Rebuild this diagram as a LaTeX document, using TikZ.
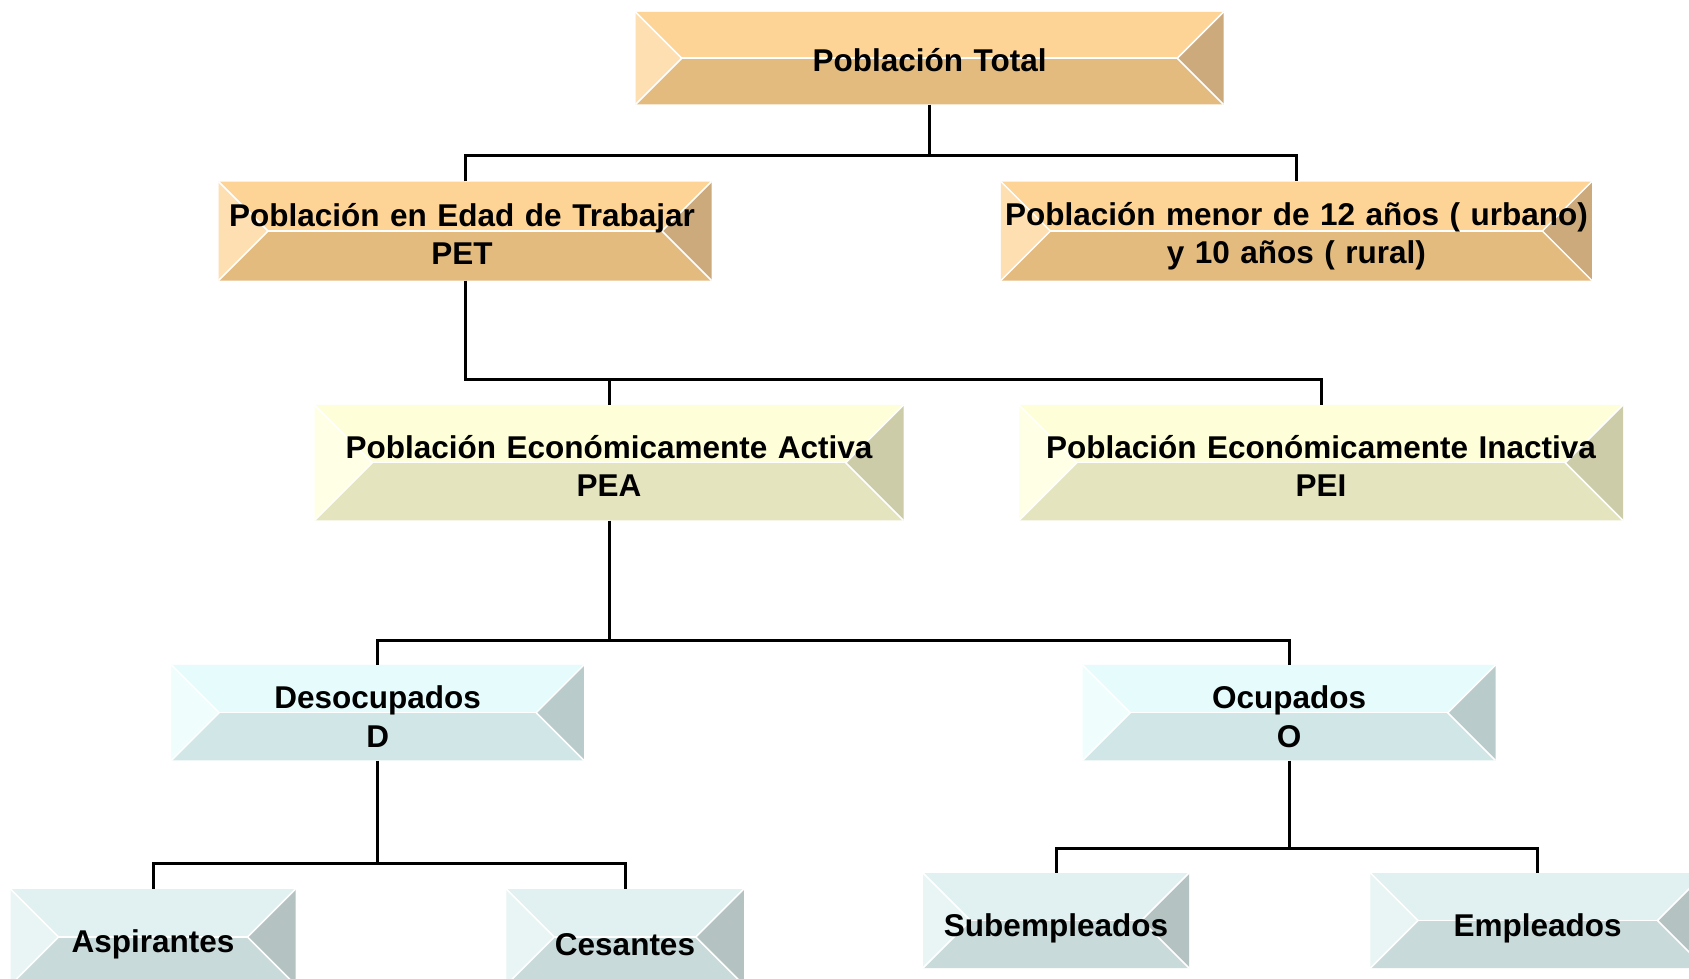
\documentclass[tikz,border=0pt]{standalone}
\usepackage{fontspec}
\setmainfont{Liberation Sans}
\definecolor{ortop}{HTML}{FDD496}
\definecolor{orbot}{HTML}{E4BB7E}
\definecolor{orl}{HTML}{FDDFB1}
\definecolor{orr}{HTML}{CCAA7C}
\definecolor{yetop}{HTML}{FEFED8}
\definecolor{yebot}{HTML}{E4E4BE}
\definecolor{yel}{HTML}{FFFFE6}
\definecolor{yer}{HTML}{CCCCA9}
\definecolor{cytop}{HTML}{E6FCFC}
\definecolor{cybot}{HTML}{D1E6E6}
\definecolor{cyl}{HTML}{EFFDFD}
\definecolor{cyr}{HTML}{BACBCB}
\definecolor{grtop}{HTML}{E1F0F0}
\definecolor{grbot}{HTML}{C9DADA}
\definecolor{grl}{HTML}{E9F4F4}
\definecolor{grr}{HTML}{B4C2C2}
\tikzset{
  boxtext/.style={inner sep=0pt, align=center, font=\bfseries\fontsize{31.5}{38.3}\selectfont},
  conn/.style={line width=3pt, draw=black},
  bevline/.style={draw=white, line width=1.5pt}
}
\newcommand\bevbox[8][]{%
  \pgfmathsetmacro\bvxl{#3-#5/2}\pgfmathsetmacro\bvxr{#3+#5/2}%
  \pgfmathsetmacro\bvyt{#4-#6/2}\pgfmathsetmacro\bvyb{#4+#6/2}%
  \pgfmathsetmacro\bvil{\bvxl+#6/2}\pgfmathsetmacro\bvir{\bvxr-#6/2}%
  \fill[#7top] (\bvxl,\bvyt) -- (\bvxr,\bvyt) -- (\bvir,#4) -- (\bvil,#4) -- cycle;
  \fill[#7bot] (\bvxl,\bvyb) -- (\bvxr,\bvyb) -- (\bvir,#4) -- (\bvil,#4) -- cycle;
  \fill[#7l] (\bvxl,\bvyt) -- (\bvil,#4) -- (\bvxl,\bvyb) -- cycle;
  \fill[#7r] (\bvxr,\bvyt) -- (\bvir,#4) -- (\bvxr,\bvyb) -- cycle;
  \draw[bevline] (\bvxl,\bvyt) -- (\bvil,#4) -- (\bvxl,\bvyb);
  \draw[bevline] (\bvxr,\bvyt) -- (\bvir,#4) -- (\bvxr,\bvyb);
  \draw[bevline] (\bvil,#4) -- (\bvir,#4);
  \node[boxtext, text width=#5pt, minimum height=#6pt] (#2) at (#3,#4) {};
  \node[boxtext, text width=#5pt, yshift=-3pt, #1] (#2-t) at (#3,#4) {#8};
}
\begin{document}
\begin{tikzpicture}[x=1pt,y=-1pt]
\fill[white] (0,0) rectangle (1689,978);
\useasboundingbox (0,0) rectangle (1689,978);

\bevbox[yshift=1.5pt]{total}{929.5}{58.2}{588}{92.5}{or}{Población Total}
\bevbox[xshift=-3pt]{pet}{465}{231}{493}{99}{or}{Población en Edad de Trabajar\\PET}
\bevbox[yshift=-2pt]{menor}{1296.4}{231}{591}{99}{or}{Población menor de 12 años ( urbano)\\y 10 años ( rural)}
\bevbox{pea}{609}{462.7}{589}{115.5}{ye}{Población Económicamente Activa\\PEA}
\bevbox{pei}{1321}{462.7}{604}{115.5}{ye}{Población Económicamente Inactiva\\PEI}
\bevbox[yshift=-1pt]{des}{377.7}{712.7}{412.5}{95.5}{cy}{Desocupados\\D}
\bevbox[yshift=-1pt]{ocu}{1289}{712.7}{413}{95.5}{cy}{Ocupados\\O}
\bevbox[yshift=-4.5pt]{asp}{153}{937}{285}{96}{gr}{Aspirantes}
\bevbox[yshift=-4.5pt]{ces}{625}{937}{237.5}{96}{gr}{Cesantes}
\bevbox[yshift=-4.5pt]{sub}{1056}{920.5}{266}{95}{gr}{Subempleados}
\bevbox[yshift=-4.5pt]{emp}{1537.7}{920.5}{334.5}{95}{gr}{Empleados}

\coordinate (j1) at (929.5,155);
\coordinate (j2) at (609,379);
\coordinate (j3) at (609,640);
\coordinate (j4) at (377.7,863);
\coordinate (j5) at (1289,848);

\draw[conn] (total.south) -- (total.south |- j1);
\draw[conn] (pet.north) |- (j1) -| (menor.north);
\draw[conn] (pet.south) |- (j2) -| (pei.north);
\draw[conn] (pea.north) -- (pea.north |- j2);
\draw[conn] (pea.south) -- (pea.south |- j3);
\draw[conn] (des.north) |- (j3) -| (ocu.north);
\draw[conn] (des.south) -- (des.south |- j4);
\draw[conn] (asp.north) |- (j4) -| (ces.north);
\draw[conn] (ocu.south) -- (ocu.south |- j5);
\draw[conn] (sub.north) |- (j5) -| (emp.north);
\end{tikzpicture}
\end{document}
